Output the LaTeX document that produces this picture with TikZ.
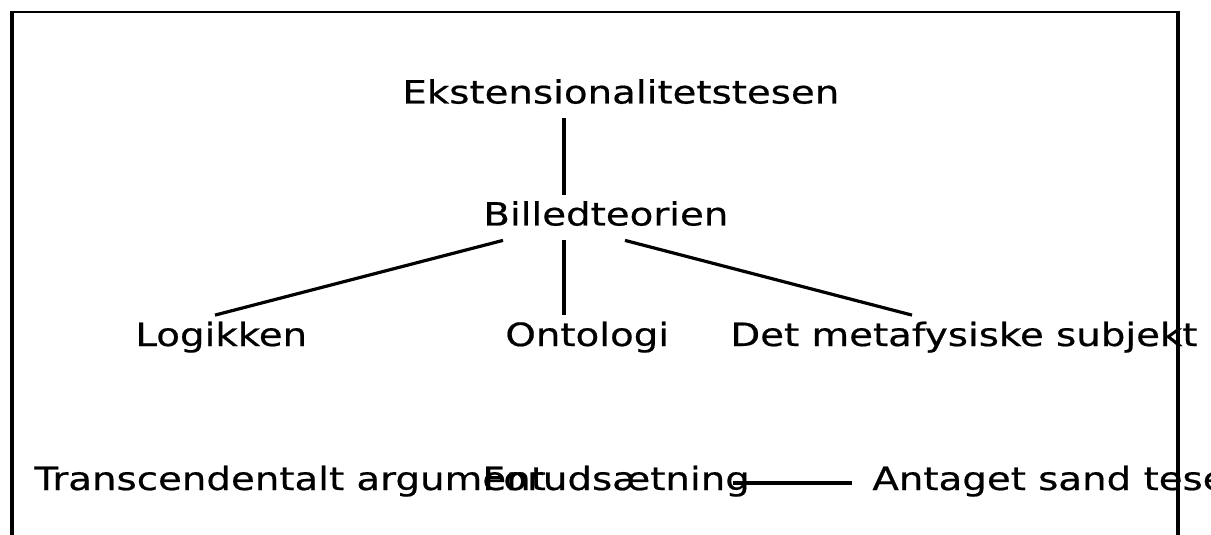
\documentclass[tikz,border=0pt]{standalone}
\usepackage{fontspec}
\setmainfont{DejaVu Sans}[FakeStretch=1.21, FakeBold=0.6]
\usetikzlibrary{calc}

\begin{document}
\begin{tikzpicture}[
    x=0.5pt, y=-0.5pt,
    every node/.style={font=\fontsize{16pt}{19pt}\selectfont},
    term/.style={anchor=base west, inner xsep=0pt, inner ysep=3.25pt,
      text height=12pt, text depth=4pt},
    link/.style={line width=1.6pt, color=black},
    edge/.style={line width=#1, color=black},
  ]
  \useasboundingbox (0,0) rectangle (1211,535);
  % frame, open at the bottom
  \draw[edge=2pt] (12,560) -- (12,11);
  \draw[edge=1.3pt] (11,12) -- (1179,12);
  \draw[edge=1.9pt] (1178,11) -- (1178,560);

  \node[term] (ekst) at (402,103.5) {Ekstensionalitetstesen};
  \node[term] (billed) at (483,225.5) {Billedteorien};
  \node[term] (logik) at (135,346) {Logikken};
  \node[term] (onto) at (505,346) {Ontologi};
  \node[term] (subj) at (730,346) {Det metafysiske subjekt};
  \node[term] (trans) at (34,490) {Transcendentalt argument};
  \node[term] (forud) at (482,490) {Forudsætning};
  \node[term] (antag) at (872,490) {Antaget sand tese};

  \draw[link] ($(ekst.south west)+(162,0)$) -- ($(billed.north west)+(81,0)$);
  \draw[link] ($(billed.south west)+(20,0)$) -- ($(logik.north west)+(80,0)$);
  \draw[link] ($(billed.south west)+(81,0)$) -- ($(onto.north west)+(59,0)$);
  \draw[link] ($(billed.south west)+(142,0)$) -- ($(subj.north west)+(182,0)$);
  \draw[link] ($(forud.base west)+(251,-7)$) -- ($(antag.base west)+(-20,-7)$);
\end{tikzpicture}
\end{document}
